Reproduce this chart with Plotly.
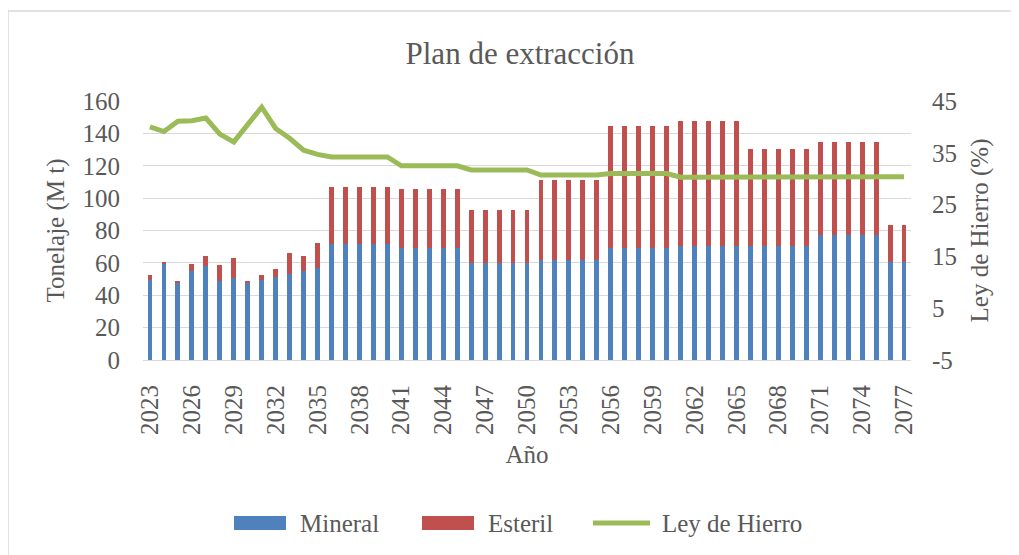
import plotly.graph_objects as go

years = list(range(2023, 2078))
mineral = [49.4, 59.3, 47.9, 55.0, 58.3, 48.5, 50.4, 48.1, 49.4, 51.0, 53.1, 54.8, 56.8,
           71.4, 71.4, 71.4, 71.4, 71.4,
           69.3, 69.3, 69.3, 69.3, 69.3,
           60.0, 60.0, 60.0, 60.0, 60.0,
           61.8, 61.8, 61.8, 61.8, 61.8,
           69.5, 69.5, 69.5, 69.5, 69.5,
           70.7, 70.7, 70.7, 70.7, 70.7,
           70.5, 70.5, 70.5, 70.5, 70.5,
           77.2, 77.2, 77.2, 77.2, 77.2,
           60.8, 60.8]
total = [52.7, 60.8, 49.0, 59.3, 64.5, 58.9, 63.1, 48.5, 52.5, 56.2, 66.4, 64.5, 72.0,
         106.6, 106.6, 106.6, 106.6, 106.6,
         105.4, 105.4, 105.4, 105.4, 105.4,
         92.5, 92.5, 92.5, 92.5, 92.5,
         111.0, 111.0, 111.0, 111.0, 111.0,
         144.4, 144.4, 144.4, 144.4, 144.4,
         147.5, 147.5, 147.5, 147.5, 147.5,
         130.3, 130.3, 130.3, 130.3, 130.3,
         134.6, 134.6, 134.6, 134.6, 134.6,
         83.4, 83.4]
esteril = [round(t - m, 1) for t, m in zip(total, mineral)]
ley = [40.0, 39.1, 41.1, 41.2, 41.7, 38.6, 37.1, 40.6, 43.8, 39.7, 37.8, 35.5, 34.7,
       34.2, 34.2, 34.2, 34.2, 34.2,
       32.5, 32.5, 32.5, 32.5, 32.5,
       31.7, 31.7, 31.7, 31.7, 31.7,
       30.7, 30.7, 30.7, 30.7, 30.7,
       31.0, 31.0, 31.0, 31.0, 31.0,
       30.3, 30.3, 30.3, 30.3, 30.3,
       30.3, 30.3, 30.3, 30.3, 30.3,
       30.5, 30.5, 30.5, 30.5, 30.5,
       30.4, 30.4]
ley_ticks = [-5, 5, 15, 25, 35, 45]
ley_tick_labels = ["-5", "5", "15", "25", "35", "45"]

FONT = "Liberation Serif"
GREY = "#595959"
BLUE, RED, GREEN = "#4F81BD", "#C0504D", "#9BBB59"

fig = go.Figure()
fig.add_trace(go.Bar(x=years, y=mineral, name="Mineral", marker_color=BLUE, marker_line_width=0,
                     showlegend=False))
fig.add_trace(go.Bar(x=years, y=esteril, name="Esteril", marker_color=RED, marker_line_width=0,
                     showlegend=False))
fig.add_trace(go.Scatter(x=years, y=ley, name="Ley de Hierro", yaxis="y2", mode="lines",
                         line=dict(color=GREEN, width=5), showlegend=False))

# page body has an 8px default margin: figure drawn at offset (8, 8)
OFF = 8
W, H = 1019 - OFF, 555 - OFF
L, R, T, B = 143, 911, 101, 360  # plot area in screen pixels
pw, ph = R - L, B - T

def px(x):
    return (x - L) / pw

def py(y):
    return (B - y) / ph

shapes = [dict(type="rect", xref="paper", yref="paper", x0=px(8), x1=px(1040), y0=py(580), y1=py(11),
               line=dict(color="#D9D9D9", width=1.5), layer="below")]
annotations = []
# legend
legend_items = [("rect", BLUE, 234, 286, "Mineral", 298),
                ("rect", RED, 422, 474, "Esteril", 486),
                ("line", GREEN, 593, 650, "Ley de Hierro", 660)]
for kind, col, x0, x1, label, tx in legend_items:
    if kind == "rect":
        shapes.append(dict(type="rect", xref="paper", yref="paper", x0=px(x0), x1=px(x1),
                           y0=py(530), y1=py(516), fillcolor=col, line=dict(width=0)))
    else:
        shapes.append(dict(type="line", xref="paper", yref="paper", x0=px(x0), x1=px(x1),
                           y0=py(523), y1=py(523), line=dict(color=col, width=5)))
    annotations.append(dict(text=label, xref="paper", yref="paper", x=px(tx), y=py(523),
                            xanchor="left", yanchor="middle", showarrow=False,
                            font=dict(family=FONT, size=25, color=GREY)))

fig.update_layout(
    width=W, height=H,
    barmode="stack", bargap=0.65,
    paper_bgcolor="white", plot_bgcolor="white",
    margin=dict(l=L - OFF, r=W - (R - OFF), t=T - OFF, b=H - (B - OFF), autoexpand=False),
    font=dict(family=FONT, color=GREY, size=25),
    title=dict(text="Plan de extracción", xref="container", x=(520 - OFF) / W, xanchor="center",
               yref="container", y=1 - (53 - OFF) / H, yanchor="middle",
               font=dict(family=FONT, size=31, color=GREY)),
    xaxis=dict(tickmode="linear", tick0=2023, dtick=3, tickangle=-90, range=[2022.5, 2077.5],
               showgrid=False, showline=True, linecolor="#D9D9D9", linewidth=1,
               ticks="", tickfont=dict(family=FONT, size=25, color=GREY), ticklabelstandoff=14,
               title=dict(text="Año", font=dict(family=FONT, size=25, color=GREY), standoff=11)),
    yaxis=dict(range=[0, 160], dtick=20, showgrid=True, gridcolor="#D9D9D9", gridwidth=1,
               zeroline=False, ticks="", tickfont=dict(family=FONT, size=25, color=GREY),
               ticklabelstandoff=22,
               title=dict(text="Tonelaje (M t)", font=dict(family=FONT, size=25, color=GREY), standoff=10)),
    yaxis2=dict(range=[-5, 45], tickmode="array", tickvals=ley_ticks, ticktext=ley_tick_labels,
                overlaying="y", side="right", showgrid=False,
                zeroline=False, ticks="", tickfont=dict(family=FONT, size=25, color=GREY),
                ticklabelstandoff=20,
                title=dict(text="Ley de Hierro (%)", font=dict(family=FONT, size=25, color=GREY), standoff=14)),
    showlegend=False,
    shapes=shapes,
    annotations=annotations,
)

fig.write_html("out.html")
